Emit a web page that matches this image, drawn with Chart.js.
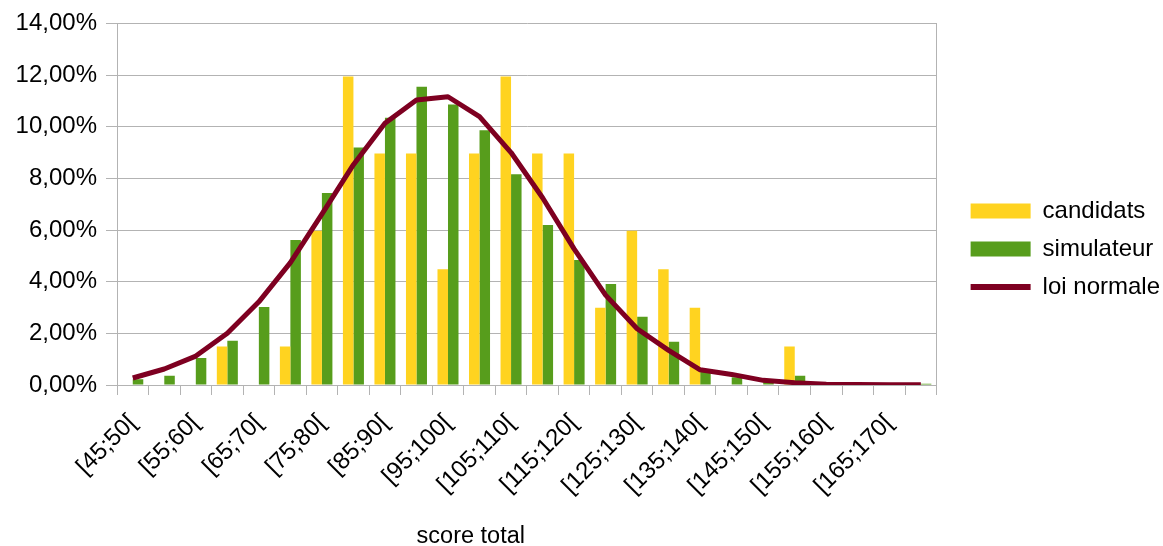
<!DOCTYPE html>
<html>
<head>
<meta charset="utf-8">
<script src="https://cdn.jsdelivr.net/npm/chart.js@4/dist/chart.umd.min.js"></script>
<style>
  html, body { margin: 0; padding: 0; background: #fff; }
  canvas { display: block; }
</style>
</head>
<body>
<canvas id="chart" width="1163" height="546"></canvas>
<script>
// Score classes (5-point bins)
const categories = [
  '[45;50[', '[50;55[', '[55;60[', '[60;65[', '[65;70[', '[70;75[', '[75;80[',
  '[80;85[', '[85;90[', '[90;95[', '[95;100[', '[100;105[', '[105;110[',
  '[110;115[', '[115;120[', '[120;125[', '[125;130[', '[130;135[', '[135;140[',
  '[140;145[', '[145;150[', '[150;155[', '[155;160[', '[160;165[', '[165;170[',
  '[170;175['
];

// Share of each class, in percent
const candidats = [
  0, 0, 0, 1.49, 0, 1.49, 5.97, 11.94, 8.96, 8.96, 4.48, 8.96, 11.94,
  8.96, 8.96, 2.99, 5.97, 4.48, 2.99, 0, 0, 1.49, 0, 0, 0, 0
];
const simulateur = [
  0.22, 0.36, 1.05, 1.71, 3.02, 5.61, 7.43, 9.20, 10.35, 11.55, 10.86, 9.86, 8.16,
  6.19, 4.84, 3.91, 2.64, 1.67, 0.55, 0.30, 0.12, 0.36, 0, 0, 0, 0.05
];
const loiNormale = [
  0.27, 0.62, 1.12, 2.00, 3.22, 4.74, 6.62, 8.53, 10.13, 11.03, 11.16, 10.39, 9.00,
  7.25, 5.27, 3.48, 2.18, 1.34, 0.59, 0.41, 0.18, 0.09, 0.03, 0.02, 0.01, 0.01
];

const seriesNames = ['candidats', 'simulateur', 'loi normale'];
const xTitle = 'score total';

const FONT = 'Liberation Sans, Arial, sans-serif';
const GRID = '#b3b3b3';

const fmtPct = v => v.toFixed(2).replace('.', ',') + '%';

// Axis title under the category labels
const axisTitlePlugin = {
  id: 'axisTitle',
  afterDraw(chart) {
    const { ctx, chartArea } = chart;
    ctx.save();
    ctx.font = '23.5px ' + FONT;
    ctx.fillStyle = '#000';
    ctx.textAlign = 'center';
    ctx.textBaseline = 'middle';
    ctx.fillText(xTitle, (chartArea.left + chartArea.right) / 2 - 56, chart.height - 9);
    ctx.restore();
  }
};

new Chart(document.getElementById('chart'), {
  data: {
    labels: categories,
    datasets: [
      {
        type: 'bar',
        label: seriesNames[0],
        data: candidats,
        backgroundColor: '#ffd320',
        borderWidth: 0,
        order: 1,
        categoryPercentage: 2 / 3,
        barPercentage: 1
      },
      {
        type: 'bar',
        label: seriesNames[1],
        data: simulateur,
        backgroundColor: '#579d1c',
        borderWidth: 0,
        order: 1,
        categoryPercentage: 2 / 3,
        barPercentage: 1
      },
      {
        type: 'line',
        label: seriesNames[2],
        data: loiNormale,
        borderColor: '#7e0021',
        backgroundColor: '#7e0021',
        borderWidth: 5,
        borderJoinStyle: 'round',
        pointRadius: 0,
        tension: 0,
        fill: false,
        order: 0
      }
    ]
  },
  options: {
    responsive: false,
    animation: false,
    layout: { padding: { top: 0, bottom: 48, left: 0, right: -7 } },
    plugins: {
      tooltip: { enabled: false },
      title: { display: true, text: '', padding: { top: 10, bottom: 0 }, font: { size: 10 } },
      legend: {
        position: 'right',
        maxWidth: 300,
        labels: {
          usePointStyle: true,
          pointStyleWidth: 60,
          boxWidth: 60,
          boxHeight: 15,
          padding: 14,
          color: '#000',
          font: { family: FONT, size: 24 },
          generateLabels: chart => chart.data.datasets.map((ds, i) => ({
            text: ds.label,
            fillStyle: ds.type === 'line' ? 'rgba(0,0,0,0)' : ds.backgroundColor,
            strokeStyle: ds.type === 'line' ? ds.borderColor : ds.backgroundColor,
            lineWidth: ds.type === 'line' ? 6 : 0,
            pointStyle: ds.type === 'line' ? 'line' : 'rect',
            fontColor: '#000',
            hidden: false,
            datasetIndex: i
          }))
        }
      }
    },
    scales: {
      x: {
        offset: true,
        afterFit: s => { s.height = 113; },
        grid: {
          offset: true,
          drawOnChartArea: false,
          drawTicks: true,
          tickLength: 10,
          color: GRID
        },
        border: { display: true, color: GRID },
        ticks: {
          autoSkip: false,
          maxRotation: 45,
          minRotation: 45,
          padding: 14,
          color: '#000',
          font: { family: FONT, size: 24 },
          callback: (v, i) => (i % 2 === 0 ? categories[i] : '')
        }
      },
      y: {
        min: 0,
        max: 14,
        afterFit: s => { s.width = 117; },
        grid: { color: GRID, tickLength: 11, drawTicks: true },
        border: { display: true, color: GRID },
        ticks: {
          stepSize: 2,
          padding: 9,
          color: '#000',
          font: { family: FONT, size: 24 },
          callback: v => fmtPct(v)
        }
      },
      y2: {
        position: 'right',
        afterFit: s => { s.width = 20; },
        grid: { drawOnChartArea: false, drawTicks: false },
        border: { display: true, color: GRID },
        ticks: { display: false }
      }
    }
  },
  plugins: [axisTitlePlugin]
});
</script>
</body>
</html>
